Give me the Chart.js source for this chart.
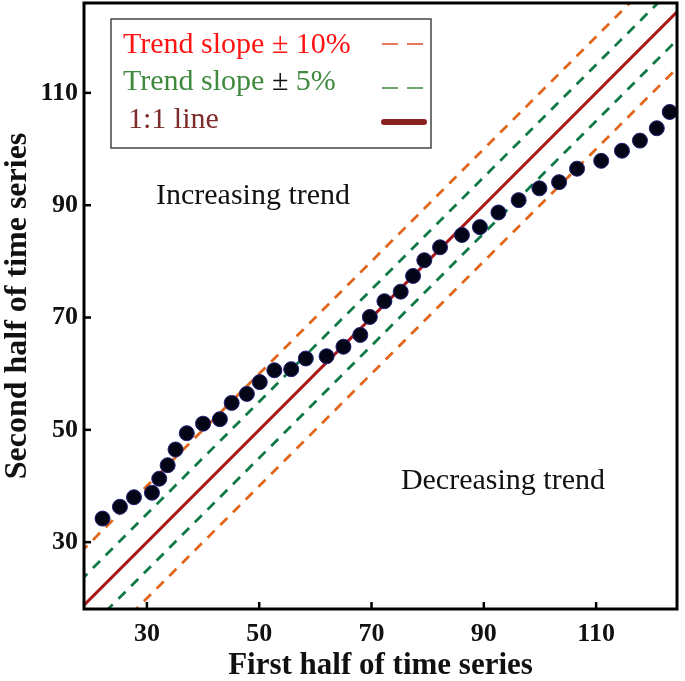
<!DOCTYPE html>
<html>
<head>
<meta charset="utf-8">
<script src="https://cdn.jsdelivr.net/npm/chart.js@4"></script>
<style>
  body { margin: 0; background: #fff; }
</style>
</head>
<body>
<canvas id="trend" width="685" height="681"></canvas>
<script>
// values
const firstHalf = [22.1, 25.2, 27.7, 30.9, 32.2, 33.7, 35.1, 37.1, 40.0, 43.0, 45.1, 47.8, 50.1, 52.7, 55.7, 58.3, 62.0, 65.0, 68.0, 69.7, 72.3, 75.2, 77.4, 79.4, 82.2, 86.1, 89.3, 92.6, 96.2, 99.9, 103.4, 106.6, 110.9, 114.6, 117.8, 120.8, 123.1]
const secondHalf = [34.2, 36.3, 38.0, 38.8, 41.3, 43.7, 46.5, 49.4, 51.1, 51.9, 54.8, 56.4, 58.5, 60.6, 60.8, 62.7, 63.1, 64.8, 66.9, 70.1, 72.9, 74.6, 77.4, 80.2, 82.5, 84.7, 86.1, 88.7, 90.9, 93.0, 94.1, 96.5, 97.9, 99.7, 101.5, 103.7, 106.6]

// reference lines (end points)
const lineX = [0, 140]
const lineOneToOne = [0, 140]
const linePlus5 = [5, 145]
const lineMinus5 = [-5, 135]
const linePlus10 = [10, 150]
const lineMinus10 = [-10, 130]

const tickValues = [30, 50, 70, 90, 110]

const legendLabels = ['Trend slope ', '± ', '1:1 line']
const serif = '"Liberation Serif", "Times New Roman", serif'

const orange = '#e0671c'
const green = '#0f7a47'
const darkRed = '#a81616'

function pairs(xs, ys){
  return xs.map((x, i) => ({x: x, y: ys[i]}))
}

function refLine(ys, color, dashed){
  return {
    data: pairs(lineX, ys),
    showLine: true,
    borderColor: color,
    borderWidth: dashed ? 2.8 : 3,
    borderDash: dashed ? [10, 8] : [],
    pointRadius: 0,
    fill: false
  }
}

const framePlugin = {
  id: 'frame',
  afterDraw(chart){
    const ctx = chart.ctx
    const a = chart.chartArea
    const xs = chart.scales.x
    const ys = chart.scales.y
    ctx.save()
    // inner ticks
    ctx.strokeStyle = '#000'
    ctx.lineWidth = 2.5
    for(const v of tickValues){
      const px = xs.getPixelForValue(v)
      ctx.beginPath(); ctx.moveTo(px, a.bottom); ctx.lineTo(px, a.bottom - 7); ctx.stroke()
      const py = ys.getPixelForValue(v)
      ctx.beginPath(); ctx.moveTo(a.left, py); ctx.lineTo(a.left + 7, py); ctx.stroke()
    }
    // frame
    ctx.lineWidth = 3
    ctx.strokeRect(a.left, a.top, a.right - a.left, a.bottom - a.top)

    // annotations
    ctx.fillStyle = '#111'
    ctx.font = '30px ' + serif
    ctx.textAlign = 'center'
    ctx.textBaseline = 'middle'
    ctx.fillText('Increasing trend', xs.getPixelForValue(48.9), ys.getPixelForValue(91.6))
    ctx.fillText('Decreasing trend', xs.getPixelForValue(93.4), ys.getPixelForValue(40.9))

    // legend box
    const lx = a.left + 27, ly = a.top + 16
    ctx.lineWidth = 1.5
    ctx.strokeStyle = '#444'
    ctx.fillStyle = '#fff'
    ctx.fillRect(lx, ly, 320, 129)
    ctx.strokeRect(lx, ly, 320, 129)

    ctx.textAlign = 'left'
    ctx.textBaseline = 'alphabetic'
    ctx.font = '30px ' + serif
    const tx = lx + 12
    // row 1
    ctx.fillStyle = '#ff1414'
    ctx.fillText(legendLabels[0] + '± 10%', tx, ly + 34)
    // row 2
    ctx.fillStyle = '#3f8a3f'
    ctx.fillText(legendLabels[0], tx, ly + 71)
    let w = ctx.measureText(legendLabels[0]).width
    ctx.fillStyle = '#111'
    ctx.fillText(legendLabels[1], tx + w, ly + 71)
    w += ctx.measureText(legendLabels[1]).width
    ctx.fillStyle = '#3f8a3f'
    ctx.fillText('5%', tx + w, ly + 71)
    // row 3
    ctx.fillStyle = '#7e2b2b'
    ctx.fillText(legendLabels[2], tx + 5, ly + 109)

    // samples
    const sx = lx + 271
    ctx.lineWidth = 1.6
    ctx.setLineDash([16, 9])
    ctx.strokeStyle = '#e04a2a'
    ctx.beginPath(); ctx.moveTo(sx, ly + 25); ctx.lineTo(sx + 42, ly + 25); ctx.stroke()
    ctx.strokeStyle = '#3f8a3f'
    ctx.beginPath(); ctx.moveTo(sx, ly + 69); ctx.lineTo(sx + 42, ly + 69); ctx.stroke()
    ctx.setLineDash([])
    ctx.lineWidth = 6
    ctx.lineCap = 'round'
    ctx.strokeStyle = '#8a2222'
    ctx.beginPath(); ctx.moveTo(sx + 2, ly + 103); ctx.lineTo(sx + 42, ly + 103); ctx.stroke()
    ctx.restore()
  }
}

const ctx = document.getElementById('trend').getContext('2d')
const myChart = new Chart(ctx, {
  type: 'scatter',
  data: {
    datasets: [
      {
        data: pairs(firstHalf, secondHalf),
        backgroundColor: '#050518',
        borderColor: '#1f1f78',
        borderWidth: 1,
        pointRadius: 7.5,
        showLine: false
      },
      refLine(lineOneToOne, darkRed, false),
      refLine(linePlus5, green, true),
      refLine(lineMinus5, green, true),
      refLine(linePlus10, orange, true),
      refLine(lineMinus10, orange, true)
    ]
  },
  options: {
    responsive: false,
    animation: false,
    layout: {
      autoPadding: false,
      padding: {top: 3, right: 8, left: 0, bottom: 0}
    },
    plugins: {
      legend: {display: false},
      tooltip: {enabled: false}
    },
    scales: {
      x: {
        type: 'linear',
        min: 18.8,
        max: 124.4,
        afterBuildTicks: s => { s.ticks = tickValues.map(v => ({value: v})) },
        afterFit: s => { s.height = 72; s.paddingLeft = 0; s.paddingRight = 0 },
        grid: {display: false, drawTicks: false},
        border: {display: false},
        ticks: {
          color: '#111',
          padding: 10,
          maxRotation: 0,
          font: {family: serif, size: 26, weight: 'bold'}
        },
        title: {
          display: true,
          text: 'First half of time series',
          color: '#111',
          padding: {top: 0, bottom: 0},
          font: {family: serif, size: 31, weight: 'bold', lineHeight: 1}
        }
      },
      y: {
        type: 'linear',
        min: 18.1,
        max: 126,
        afterBuildTicks: s => { s.ticks = tickValues.map(v => ({value: v})) },
        afterFit: s => { s.width = 84; s.paddingTop = 0; s.paddingBottom = 0 },
        grid: {display: false, drawTicks: false},
        border: {display: false},
        ticks: {
          color: '#111',
          padding: 6,
          font: {family: serif, size: 26, weight: 'bold'}
        },
        title: {
          display: true,
          text: 'Second half of time series',
          color: '#111',
          padding: {top: 2, bottom: 0},
          font: {family: serif, size: 32, weight: 'bold', lineHeight: 1}
        }
      }
    }
  },
  plugins: [framePlugin]
})
</script>
</body>
</html>
